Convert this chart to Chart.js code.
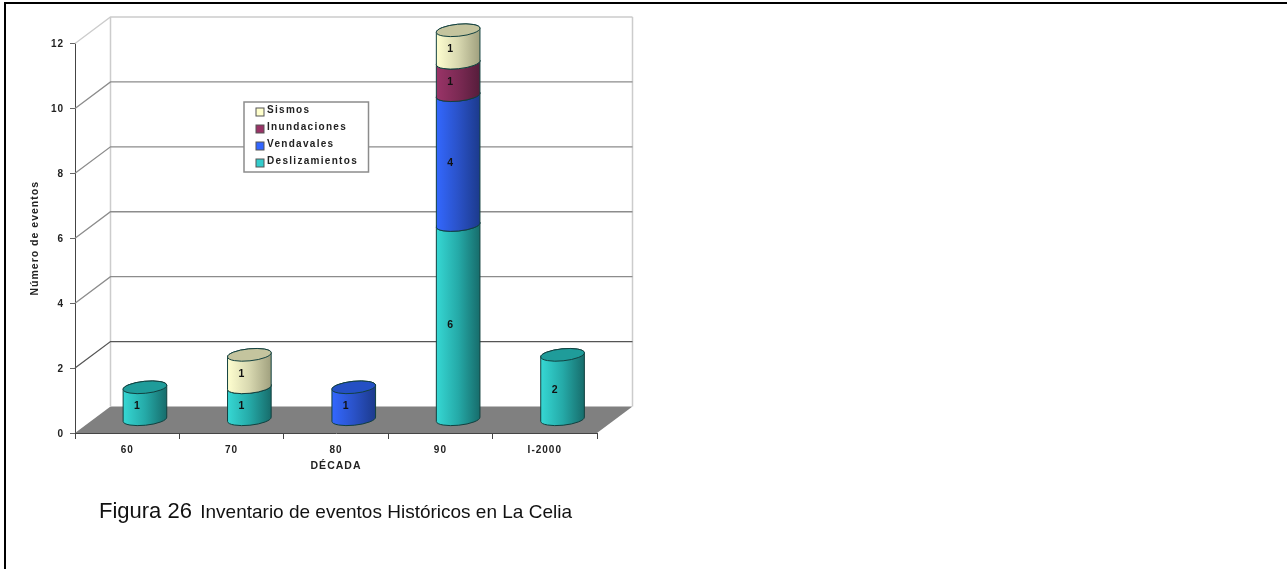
<!DOCTYPE html>
<html>
<head>
<meta charset="utf-8">
<title>Figura 26</title>
<script src="https://cdn.jsdelivr.net/npm/chart.js@4"></script>
<style>
  html, body { margin: 0; padding: 0; background: #fff; overflow: hidden; }
  #frame { position: absolute; left: 4px; top: 2px; width: 1290px; height: 600px; border: 2px solid #000; }
  #c { position: absolute; left: 0; top: 0; filter: blur(0.4px); }
  #caption { position: absolute; left: 99px; top: 498px; font-family: "Liberation Sans", Arial, sans-serif; font-size: 19px; color: #111; white-space: nowrap; filter: blur(0.25px); }
  #caption span { font-size: 22px; margin-right: 3px; }
</style>
</head>
<body>
<div id="frame"></div>
<canvas id="c" width="1287" height="569"></canvas>
<div id="caption"><span>Figura 26</span> Inventario de eventos Históricos en La Celia</div>
<script>
'use strict';

const decades = ['60', '70', '80', '90', 'I-2000'];
const yTicks = [0, 2, 4, 6, 8, 10, 12];

// bottom to top, same order as the stack in the picture
const deslizamientos = [1, 1, 0, 6, 2];
const vendavales = [0, 0, 1, 4, 0];
const inundaciones = [0, 0, 0, 1, 0];
const sismos = [0, 1, 0, 1, 0];

const legendOrder = ['Sismos', 'Inundaciones', 'Vendavales', 'Deslizamientos'];
const legendSwatchY = [112, 129, 146, 163];
const legendTextY = [110, 127.5, 144, 161.5];

const colors = {
    Deslizamientos: { swatch: '#33cccc', left: '#36d8d4', mid: '#25aaa8', right: '#176c6b', top: '#1f9c9a' },
    Vendavales: { swatch: '#3366ff', left: '#3368ff', mid: '#2a52c8', right: '#1c3a8c', top: '#2450c4' },
    Inundaciones: { swatch: '#993366', left: '#9a3468', mid: '#7c2a54', right: '#561d3b', top: '#7c2a54' },
    Sismos: { swatch: '#ffffcc', left: '#ffffd0', mid: '#d8d8b0', right: '#a0a07e', top: '#c4c49e' }
};

// depth of the fake 3d box
const depthX = 35.5;
const depthY = 26.5;

function gridColor (v) {
    if (v === 12) return '#cccccc';
    if (v === 2) return '#555555';
    return '#8c8c8c';
}

function drawCylinder (ctx, bar, c) {
    const rx = bar.width / 2;
    const ry = 6;
    const rot = -0.1;
    const cx = bar.x + depthX / 2;
    const yTop = bar.y - depthY / 2;
    const yBot = bar.base - depthY / 2;

    const grad = ctx.createLinearGradient(cx - rx, 0, cx + rx, 0);
    grad.addColorStop(0, c.left);
    grad.addColorStop(0.5, c.mid);
    grad.addColorStop(1, c.right);

    ctx.beginPath();
    ctx.ellipse(cx, yBot, rx, ry, rot, 0, Math.PI, false);
    ctx.ellipse(cx, yTop, rx, ry, rot, Math.PI, Math.PI * 2, false);
    ctx.closePath();
    ctx.fillStyle = grad;
    ctx.fill();
    ctx.strokeStyle = '#12403f';
    ctx.lineWidth = 1;
    ctx.stroke();

    ctx.beginPath();
    ctx.ellipse(cx, yTop, rx, ry, rot, 0, Math.PI * 2);
    ctx.fillStyle = c.top;
    ctx.fill();
    ctx.stroke();
}

const box3d = {
    id: 'box3d',
    beforeDraw (chart) {
        chart.ctx.letterSpacing = '1px';
    },
    beforeDatasetsDraw (chart) {
        const ctx = chart.ctx;
        const y = chart.scales.y;
        const area = chart.chartArea;
        const top = y.getPixelForValue(12);
        const bottom = y.getPixelForValue(0);

        ctx.save();
        ctx.lineWidth = 1;

        // floor
        ctx.beginPath();
        ctx.moveTo(area.left, bottom);
        ctx.lineTo(area.left + depthX, bottom - depthY);
        ctx.lineTo(area.right + depthX, bottom - depthY);
        ctx.lineTo(area.right, bottom);
        ctx.closePath();
        ctx.fillStyle = '#808080';
        ctx.fill();

        // side and back wall edges
        ctx.strokeStyle = '#cccccc';
        ctx.lineWidth = 1.5;
        ctx.beginPath();
        ctx.moveTo(area.left + depthX, bottom - depthY);
        ctx.lineTo(area.left + depthX, top - depthY);
        ctx.moveTo(area.right + depthX, bottom - depthY);
        ctx.lineTo(area.right + depthX, top - depthY);
        ctx.stroke();
        ctx.lineWidth = 1.3;

        // grid lines on the walls
        yTicks.forEach(v => {
            if (v === 0) return;
            const py = y.getPixelForValue(v);
            ctx.strokeStyle = gridColor(v);
            ctx.beginPath();
            ctx.moveTo(area.left, py);
            ctx.lineTo(area.left + depthX, py - depthY);
            ctx.lineTo(area.right + depthX, py - depthY);
            ctx.stroke();
        });
        ctx.lineWidth = 1;

        // legend box
        ctx.fillStyle = '#ffffff';
        ctx.fillRect(244, 102, 124.5, 70);
        ctx.strokeStyle = '#8c8c8c';
        ctx.lineWidth = 1.5;
        ctx.strokeRect(244, 102, 124.5, 70);
        ctx.lineWidth = 1;
        ctx.font = 'bold 10px "Liberation Sans", Arial, sans-serif';
        ctx.letterSpacing = '1.3px';
        ctx.textBaseline = 'middle';
        ctx.textAlign = 'left';
        legendOrder.forEach((name, i) => {
            ctx.fillStyle = colors[name].swatch;
            ctx.fillRect(256, legendSwatchY[i] - 4, 8, 8);
            ctx.strokeStyle = '#555555';
            ctx.strokeRect(256, legendSwatchY[i] - 4, 8, 8);
            ctx.fillStyle = '#222222';
            ctx.fillText(name, 267, legendTextY[i]);
        });
        ctx.letterSpacing = '0px';

        // cylinders, bottom of the stack first so the upper one overlaps
        const metas = chart.data.datasets.map((d, i) => chart.getDatasetMeta(i));
        metas.forEach((meta, i) => {
            const ds = chart.data.datasets[i];
            meta.data.forEach((bar, j) => {
                if (!ds.data[j]) return;
                drawCylinder(ctx, bar, colors[ds.label]);
            });
        });

        // value labels
        ctx.font = 'bold 10.5px "Liberation Sans", Arial, sans-serif';
        ctx.fillStyle = '#111111';
        ctx.textAlign = 'center';
        ctx.textBaseline = 'middle';
        metas.forEach((meta, i) => {
            const ds = chart.data.datasets[i];
            meta.data.forEach((bar, j) => {
                if (!ds.data[j]) return;
                const mid = (bar.y + bar.base) / 2 - depthY / 2 + 3;
                ctx.fillText(String(ds.data[j]), bar.x + depthX / 2 - 8, mid);
            });
        });

        ctx.restore();
        return false;
    }
};

const tickFont = { family: '"Liberation Sans", Arial, sans-serif', size: 10, weight: 'bold' };
const titleFont = { family: '"Liberation Sans", Arial, sans-serif', size: 10.5, weight: 'bold' };

new Chart(document.getElementById('c'), {
    type: 'bar',
    data: {
        labels: decades,
        datasets: [
            { label: 'Deslizamientos', data: deslizamientos, backgroundColor: colors.Deslizamientos.swatch },
            { label: 'Vendavales', data: vendavales, backgroundColor: colors.Vendavales.swatch },
            { label: 'Inundaciones', data: inundaciones, backgroundColor: colors.Inundaciones.swatch },
            { label: 'Sismos', data: sismos, backgroundColor: colors.Sismos.swatch }
        ]
    },
    options: {
        responsive: false,
        animation: false,
        layout: { padding: { left: 0, top: 43.5, right: 690, bottom: 86 } },
        plugins: { legend: { display: false }, tooltip: { enabled: false } },
        datasets: { bar: { categoryPercentage: 1, barPercentage: 0.42 } },
        scales: {
            x: {
                stacked: true,
                afterFit (scale) { scale.height = 50; },
                border: { color: '#444444' },
                grid: { drawOnChartArea: false, tickColor: '#444444', tickLength: 6 },
                ticks: { color: '#222222', font: tickFont, maxRotation: 0, padding: 5 },
                title: { display: true, text: 'DÉCADA', color: '#222222', font: titleFont, padding: { top: 2, bottom: 11 } }
            },
            y: {
                stacked: true,
                min: 0,
                max: 12,
                afterFit (scale) { scale.width = 75; },
                afterBuildTicks (scale) { scale.ticks = yTicks.map(v => ({ value: v })); },
                border: { color: '#444444' },
                grid: { drawOnChartArea: false, tickColor: '#666666', tickLength: 5 },
                ticks: { color: '#222222', font: tickFont, padding: 6, labelOffset: 1 },
                title: { display: true, text: 'Número de eventos', color: '#222222', font: titleFont, padding: { top: 29, bottom: 0 } }
            }
        }
    },
    plugins: [box3d]
});
</script>
</body>
</html>
